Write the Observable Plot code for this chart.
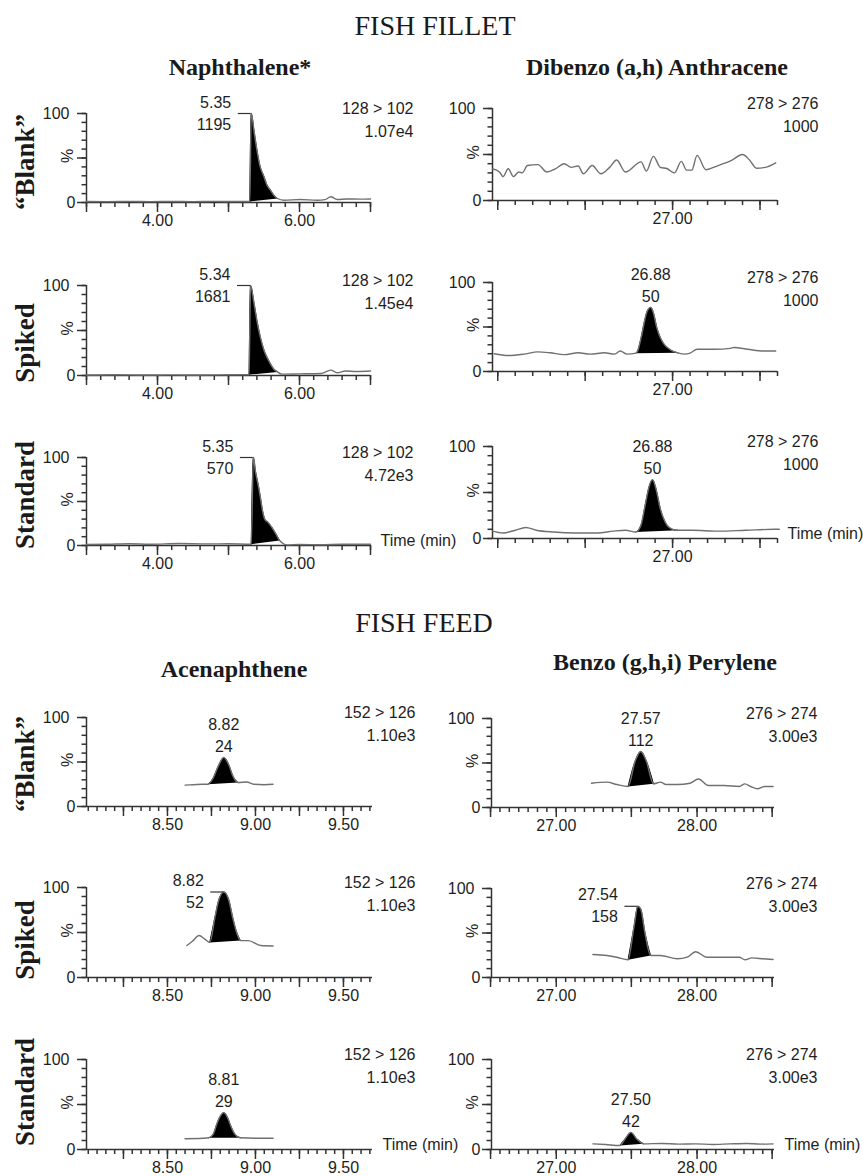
<!DOCTYPE html>
<html><head><meta charset="utf-8">
<script src="https://cdn.jsdelivr.net/npm/d3@7"></script>
<script src="https://cdn.jsdelivr.net/npm/@observablehq/plot@0.6"></script>
<style>
body{margin:0;background:#fff;}
#root{position:relative;width:863px;height:1176px;overflow:hidden;background:#fff;}
.t{position:absolute;white-space:nowrap;color:#1a1a1a;font-family:"Liberation Serif","Times New Roman",serif;line-height:1;}
.sec{font-size:28px;transform:translateX(-50%);}
.cmp{font-size:24px;font-weight:bold;transform:translateX(-50%);}
.row{font-size:27px;font-weight:bold;transform:translate(-50%,-50%) rotate(-90deg);}
</style></head><body><div id="root"></div><script>
// ---------------- data ----------------
const sections = ["FISH FILLET", "FISH FEED"];
const compounds = ["Naphthalene*", "Dibenzo (a,h) Anthracene", "Acenaphthene", "Benzo (g,h,i) Perylene"];
const sampleRows = ["\u201cBlank\u201d", "Spiked", "Standard"];
const transitions = ["128 > 102", "278 > 276", "152 > 126", "276 > 274"];
const intensityNaph = ["1.07e4", "1.45e4", "4.72e3"];
const intensityDib = ["1000", "1000", "1000"];
const intensityAcen = ["1.10e3", "1.10e3", "1.10e3"];
const intensityBenz = ["3.00e3", "3.00e3", "3.00e3"];
const tickLabelsNaph = [4, 6];
const tickLabelsDib = [27];
const tickLabelsAcen = [8.5, 9, 9.5];
const tickLabelsBenz = [27, 28];
const domainNaph = [3.0, 7.0];
const domainDib = [25.97, 27.6];
const domainAcen = [8.04, 9.665];
const domainBenz = [26.54, 28.55];

// traces: [time (min), % intensity]
const naphBlank = [[3.0,1.2],[3.3,1.0],[3.6,1.3],[3.9,1.0],[4.2,1.2],[4.5,1.0],[4.8,1.3],[5.1,1.1],[5.30,1.2],[5.32,100],[5.36,80],[5.40,59],[5.44,42],[5.50,29],[5.54,20],[5.59,14],[5.64,8],[5.69,4.5],[5.78,2.6],[6.01,3.4],[6.25,2.6],[6.36,3.2],[6.44,6.4],[6.53,3.4],[6.67,4.0],[6.85,3.8],[7.0,4.0]];
const naphSpiked = [[3.0,0.5],[3.4,0.8],[3.8,0.5],[4.2,0.7],[4.6,0.5],[5.0,0.8],[5.29,1.0],[5.31,100],[5.36,80],[5.40,61],[5.45,42],[5.50,28],[5.55,19],[5.59,13],[5.64,7],[5.69,4],[5.75,1.5],[6.0,1.8],[6.3,2.2],[6.44,6],[6.53,3],[6.65,5],[6.8,4.5],[7.0,5]];
const naphStd = [[3.0,1.2],[3.3,1.5],[3.6,2.0],[3.9,1.5],[4.3,2.2],[4.7,1.8],[5.0,2.0],[5.32,1.5],[5.35,100],[5.38,84],[5.42,68],[5.45,54],[5.48,39],[5.51,30],[5.56,26],[5.64,17],[5.72,5.7],[5.83,0.7],[6.0,1.2],[6.3,0.8],[6.6,1.5],[7.0,1.5]];
const dibBlank = [[25.97,34.5],[26.01,31],[26.03,26],[26.06,34.5],[26.09,26],[26.12,31],[26.14,30],[26.17,38],[26.23,39],[26.28,31],[26.33,34.5],[26.38,40],[26.42,36],[26.46,37.5],[26.49,29],[26.54,38],[26.59,29],[26.64,36],[26.68,44],[26.73,31],[26.82,42],[26.85,32],[26.89,48],[26.93,36],[26.97,34.5],[27.01,30],[27.05,42.5],[27.08,33],[27.11,33],[27.14,49],[27.19,33.5],[27.26,38],[27.29,40],[27.34,44],[27.40,50],[27.44,44],[27.48,35],[27.53,36],[27.59,41]];
const dibSpiked = [[25.98,20],[26.06,18],[26.15,19.5],[26.23,22],[26.30,21],[26.38,19],[26.46,21],[26.53,19.5],[26.61,21],[26.67,19.5],[26.70,23],[26.74,19.5],[26.79,20.6],[26.80,23],[26.82,38],[26.84,57],[26.855,68],[26.875,72],[26.89,66],[26.91,49],[26.93,38],[26.95,31],[26.99,24],[27.03,21],[27.07,19.5],[27.10,20.6],[27.14,25],[27.24,25],[27.33,26],[27.35,27],[27.43,25],[27.52,23],[27.59,23]];
const dibStd = [[25.97,8],[26.03,6],[26.10,9],[26.16,12],[26.22,9],[26.32,7],[26.44,6],[26.57,6],[26.66,8],[26.73,9],[26.79,7],[26.82,15],[26.845,38],[26.865,56],[26.885,64],[26.905,54],[26.93,32],[26.96,17],[27.0,10],[27.03,9],[27.11,9],[27.26,8],[27.42,9],[27.58,10],[27.61,10]];
const acenBlank = [[8.60,24],[8.65,24.5],[8.70,25],[8.73,25],[8.76,32],[8.79,46],[8.82,55],[8.85,46],[8.87,35],[8.90,27],[8.95,27.6],[8.99,25],[9.05,24.5],[9.10,25]];
const acenSpiked = [[8.61,35.5],[8.64,40],[8.68,46.7],[8.71,43],[8.74,39],[8.77,67],[8.79,85],[8.82,95],[8.85,85],[8.87,67],[8.89,52],[8.915,41],[8.96,41],[9.03,35.5],[9.10,35]];
const acenStd = [[8.60,12],[8.70,12.5],[8.735,13],[8.76,17],[8.78,28],[8.80,37],[8.82,41],[8.84,36],[8.86,26],[8.88,18],[8.915,13],[9.0,12.5],[9.10,12.5]];
const benzBlank = [[27.25,27.3],[27.36,28.5],[27.43,25.8],[27.51,23.6],[27.56,52],[27.60,63],[27.64,52],[27.69,26.6],[27.74,28.5],[27.78,25.8],[27.86,25.8],[27.95,27.3],[28.01,32],[28.08,24.7],[28.19,24.7],[28.30,23.6],[28.34,26.6],[28.38,23.6],[28.43,21],[28.48,23.6],[28.54,23.6]];
const benzSpiked = [[27.26,25.8],[27.36,24.7],[27.43,22.8],[27.51,19.9],[27.55,55],[27.58,80],[27.60,77],[27.63,50],[27.67,24.7],[27.74,24.7],[27.86,21],[27.93,22.8],[27.99,29],[28.07,22.8],[28.19,22.8],[28.30,22.8],[28.34,19.9],[28.39,22],[28.47,21],[28.54,20.2]];
const benzStd = [[27.26,6.3],[27.35,5.5],[27.45,4.4],[27.49,12],[27.53,19],[27.57,12],[27.62,6.3],[27.75,6.7],[27.87,6.0],[27.99,6.3],[28.11,5.6],[28.23,6.2],[28.35,6.7],[28.45,6.0],[28.54,6.3]];

// integrated peak windows [start, end]
const fillNaph = [[5.30,5.69],[5.29,5.69],[5.32,5.72]];
const fillDib = [null,[26.79,27.03],[26.79,27.03]];
const fillAcen = [[8.73,8.90],[8.74,8.915],[8.735,8.915]];
const fillBenz = [[27.51,27.69],[27.51,27.67],[27.45,27.62]];

// peak annotations: apex time, apex %, retention-time label, area label, style
const peaksNaph = [
  {t:5.32, h:100, rt:"5.35", area:"1195", style:"bracket"},
  {t:5.31, h:100, rt:"5.34", area:"1681", style:"bracket"},
  {t:5.35, h:100, rt:"5.35", area:"570", style:"bracket"}];
const peaksDib = [null,
  {t:26.875, h:72, rt:"26.88", area:"50", style:"center"},
  {t:26.885, h:64, rt:"26.88", area:"50", style:"center"}];
const peaksAcen = [
  {t:8.82, h:55, rt:"8.82", area:"24", style:"center"},
  {t:8.82, h:95, rt:"8.82", area:"52", style:"bracket"},
  {t:8.82, h:41, rt:"8.81", area:"29", style:"center"}];
const peaksBenz = [
  {t:27.60, h:63, rt:"27.57", area:"112", style:"center"},
  {t:27.58, h:80, rt:"27.54", area:"158", style:"bracket"},
  {t:27.53, h:19, rt:"27.50", area:"42", style:"center"}];

// ---------------- drawing ----------------
const root = document.getElementById("root");
const AXIS = "#333333", LINE = "#707070", TEXT = "#1e1e1e";
const yMinor = d3.range(0, 101, 10), yMajor = [0, 50, 100];

function panel(c) {
  const mL = 90, mR = 100, mT = 50, mB = 36;
  const W = c.x1 - c.x0, H = c.yBot - c.yTop;
  const span = c.domain[1] - c.domain[0];
  const pxX = span / W, pxY = 100 / H;   // data units per pixel (tick lengths)
  const X = d => d[0], Y = d => d[1];
  const curve = "monotone-x";
  const marks = [
    Plot.ruleY([0], {stroke: AXIS, strokeWidth: 1.5}),
    Plot.ruleX([c.domain[0]], {y1: 0, y2: 100, stroke: AXIS, strokeWidth: 1.5}),
    Plot.ruleX(c.minor, {x: d => d, y1: 0, y2: -5 * pxY, stroke: AXIS, strokeWidth: 1.5}),
    Plot.ruleX(c.major, {x: d => d, y1: 0, y2: -10 * pxY, stroke: AXIS, strokeWidth: 1.5}),
    Plot.ruleY(yMinor, {y: d => d, x1: c.domain[0] - 4.5 * pxX, x2: c.domain[0], stroke: AXIS, strokeWidth: 1.5}),
    Plot.ruleY(yMajor, {y: d => d, x1: c.domain[0] - 9 * pxX, x2: c.domain[0], stroke: AXIS, strokeWidth: 1.5}),
    Plot.axisX({ticks: c.labels, tickSize: 0, tickPadding: 12, tickFormat: d3.format(".2f"), fill: TEXT, label: null}),
    Plot.axisY({ticks: [100], tickSize: 0, tickPadding: 17, fill: TEXT, label: null}),
    Plot.axisY({ticks: [0], tickSize: 0, tickPadding: 11, fill: TEXT, label: null}),
    Plot.text(["%"], {text: d => d, frameAnchor: "left", dx: -19, dy: 5, rotate: -90, fill: TEXT})
  ];
  if (c.fill) {
    const seg = c.trace.filter(d => d[0] >= c.fill[0] && d[0] <= c.fill[1]);
    marks.push(Plot.line(seg, {x: X, y: Y, fill: "black", stroke: "black", strokeWidth: 1, curve}));
  }
  marks.push(Plot.line(c.trace, {x: X, y: Y, stroke: LINE, strokeWidth: 1.4, curve}));
  marks.push(Plot.text([c.transition], {text: d => d, frameAnchor: "top-right", dx: c.noteDx, dy: -11, textAnchor: "end", fill: TEXT}));
  marks.push(Plot.text([c.intensity], {text: d => d, frameAnchor: "top-right", dx: c.noteDx, dy: 12, textAnchor: "end", fill: TEXT}));
  const p = c.peak;
  if (p) {
    if (p.style === "bracket") {
      marks.push(Plot.ruleY([p], {y: "h", x1: d => d.t - 13 * pxX, x2: "t", stroke: AXIS, strokeWidth: 1.2}));
      marks.push(Plot.text([p], {x: "t", y: "h", text: "rt", dx: -20, dy: -11, textAnchor: "end", fill: TEXT}));
      marks.push(Plot.text([p], {x: "t", y: "h", text: "area", dx: -20, dy: 11, textAnchor: "end", fill: TEXT}));
    } else {
      marks.push(Plot.text([p], {x: "t", y: "h", text: "rt", dy: -33, fill: TEXT}));
      marks.push(Plot.text([p], {x: "t", y: "h", text: "area", dy: -11, fill: TEXT}));
    }
  }
  if (c.time) marks.push(Plot.text(["Time (min)"], {text: d => d, frameAnchor: "bottom-right", dx: 10, textAnchor: "start", fill: TEXT}));
  const svg = Plot.plot({
    width: W + mL + mR,
    height: H + mT + mB,
    marginLeft: mL, marginRight: mR, marginTop: mT, marginBottom: mB,
    x: {domain: c.domain}, y: {domain: [0, 100]},
    style: {background: "none", overflow: "visible", fontSize: "16px", fontFamily: "'Liberation Sans', Arial, sans-serif", color: TEXT},
    marks
  });
  svg.style.position = "absolute";
  svg.style.left = (c.x0 - mL) + "px";
  svg.style.top = (c.yTop - mT) + "px";
  svg.style.maxWidth = "none";
  root.appendChild(svg);
}

const minorNaph = d3.range(3.0, 7.001, 0.2);
const majorNaph = [3, 4, 5, 6, 7];
const minorDib = d3.range(26.0, 27.601, 0.1);
const majorDib = [26, 26.5, 27, 27.5];
const minorAcen = d3.range(8.05, 9.66, 0.05);
const majorAcen = [8.25, 8.5, 8.75, 9, 9.25, 9.5];
const minorBenz = d3.range(0, 31).map(i => 26.5333 + i / 15);
const majorBenz = [26.5333, 27, 27.5333, 28, 28.5333];

const columns = [
  {x0: 86, x1: 370, rows: [[113,202],[285,375],[457,545]], domain: domainNaph, traces: [naphBlank, naphSpiked, naphStd], fills: fillNaph, peaks: peaksNaph, transition: transitions[0], intens: intensityNaph, labels: tickLabelsNaph, minor: minorNaph, major: majorNaph, noteDx: 43},
  {x0: 492, x1: 777, rows: [[108,200],[282,371],[446,538]], domain: domainDib, traces: [dibBlank, dibSpiked, dibStd], fills: fillDib, peaks: peaksDib, transition: transitions[1], intens: intensityDib, labels: tickLabelsDib, minor: minorDib, major: majorDib, noteDx: 41},
  {x0: 86, x1: 372, rows: [[717,806],[887,977],[1059,1149]], domain: domainAcen, traces: [acenBlank, acenSpiked, acenStd], fills: fillAcen, peaks: peaksAcen, transition: transitions[2], intens: intensityAcen, labels: tickLabelsAcen, minor: minorAcen, major: majorAcen, noteDx: 43},
  {x0: 491, x1: 774, rows: [[718,807],[888,977],[1059,1149]], domain: domainBenz, traces: [benzBlank, benzSpiked, benzStd], fills: fillBenz, peaks: peaksBenz, transition: transitions[3], intens: intensityBenz, labels: tickLabelsBenz, minor: minorBenz, major: majorBenz, noteDx: 43}
];

columns.forEach(col => {
  col.rows.forEach(([yTop, yBot], i) => {
    panel({x0: col.x0, x1: col.x1, yTop, yBot, domain: col.domain, trace: col.traces[i], fill: col.fills[i],
      peak: col.peaks[i], transition: col.transition, intensity: col.intens[i], labels: col.labels,
      minor: col.minor, major: col.major, noteDx: col.noteDx, time: i === 2});
  });
});

// titles
function addText(cls, txt, left, top) {
  const d = document.createElement("div");
  d.className = "t " + cls;
  d.textContent = txt;
  d.style.left = left + "px";
  d.style.top = top + "px";
  root.appendChild(d);
}
addText("sec", sections[0], 435, 35 - 0.8375 * 28);
addText("sec", sections[1], 424, 632 - 0.8375 * 28);
addText("cmp", compounds[0], 240, 75 - 0.8375 * 24);
addText("cmp", compounds[1], 657, 75 - 0.8375 * 24);
addText("cmp", compounds[2], 234, 677 - 0.8375 * 24);
addText("cmp", compounds[3], 665, 670 - 0.8375 * 24);
[162, 343, 495].forEach((y, i) => addText("row", sampleRows[i], 25, y));
[764, 940, 1092].forEach((y, i) => addText("row", sampleRows[i], 25, y));
</script></body></html>
